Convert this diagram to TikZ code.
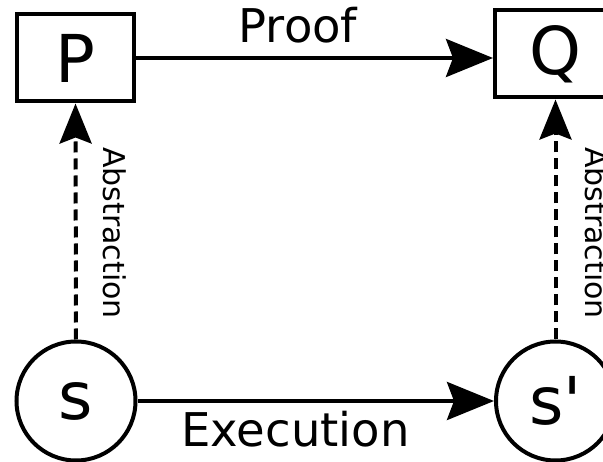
\documentclass[tikz,border=0pt]{standalone}
\usepackage{fontspec}
\setmainfont{DejaVu Sans}
\usetikzlibrary{arrows.meta}
\tikzset{
  big/.style={font=\fontsize{66}{70}\selectfont},
  boxnode/.style={draw, line width=4pt, rectangle, minimum width=117pt, minimum height=87pt, inner sep=0pt, big},
  statenode/.style={draw, line width=4pt, circle, minimum size=119pt, inner sep=0pt, big},
  hlabel/.style={font=\fontsize{46.5}{50}\selectfont, anchor=base, inner sep=0pt},
  vlabel/.style={font=\fontsize{30}{34}\selectfont, rotate=-90, anchor=base west, inner sep=0pt},
  harrow/.style={line width=4pt, -{Stealth[length=47pt, width=38pt, inset=7pt]}},
  varrow/.style={line width=4pt, dash pattern=on 11pt off 6pt, -{Stealth[length=40pt, width=32pt, inset=6pt]}}
}
\begin{document}
\begin{tikzpicture}[x=1pt, y=-1pt]
\useasboundingbox (0,0) rectangle (603,462);
\clip (0,0) rectangle (603,462);
\node[boxnode, minimum width=120pt] (Q) at (555,54) {Q};
\node[boxnode] (P) at (75.5,58) {P};
\node[statenode] (s) at (76,401) {s};
\node[statenode] (t) at (555.5,401) {s\textquotesingle};
\draw[harrow] (P.east) -- (P.east -| Q.west);
\draw[harrow] (s.east) -- (t.west);
\draw[varrow] (s.north) -- (P.south);
\draw[varrow] (t.north) -- (t.north |- Q.south);
\node[hlabel] (lproof) at (298,43) {Proof};
\node[hlabel] (lexec) at (295.5,447) {Execution};
\node[vlabel] (labs1) at (103,147) {Abstraction};
\node[vlabel] (labs2) at (585,147) {Abstraction};
\end{tikzpicture}
\end{document}
